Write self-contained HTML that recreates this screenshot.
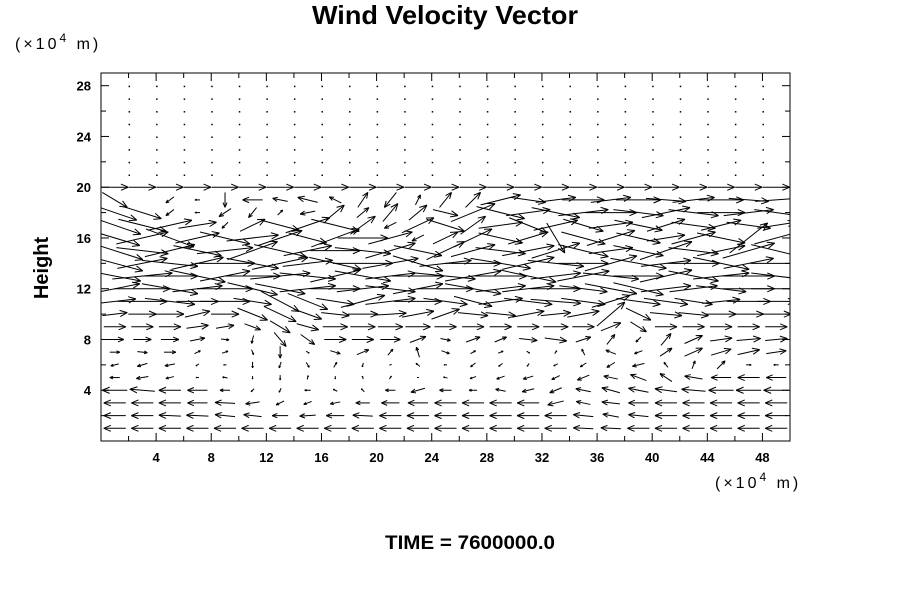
<!DOCTYPE html>
<html><head><meta charset="utf-8"><style>
body{margin:0;background:#fff;}
svg text{font-family:"Liberation Sans",sans-serif;}
</style></head><body>
<svg id="chart" width="900" height="600" viewBox="0 0 900 600" xmlns="http://www.w3.org/2000/svg">
<defs><clipPath id="plotclip"><rect x="101" y="73" width="689" height="368"/></clipPath></defs>
<rect width="900" height="600" fill="#fff"/>
<text x="445" y="24" text-anchor="middle" font-size="26" font-weight="bold" textLength="266" lengthAdjust="spacingAndGlyphs">Wind Velocity Vector</text>
<text x="15" y="49" font-size="16" letter-spacing="3">(×10<tspan dy="-7" font-size="12">4</tspan><tspan dy="7"> m)</tspan></text>
<text x="715" y="488" font-size="16" letter-spacing="3">(×10<tspan dy="-7" font-size="12">4</tspan><tspan dy="7"> m)</tspan></text>
<text transform="translate(48,268) rotate(-90)" text-anchor="middle" font-size="20" font-weight="bold">Height</text>
<text x="470" y="549" text-anchor="middle" font-size="19" font-weight="bold" textLength="170" lengthAdjust="spacingAndGlyphs">TIME = 7600000.0</text>
<g id="axes"></g>
<g id="vectors" clip-path="url(#plotclip)"></g>
<rect x="101" y="73" width="689" height="368" fill="none" stroke="#000" stroke-width="1"/>
</svg>
<script>
const xTickLabels=[4,8,12,16,20,24,28,32,36,40,44,48];
const yTickLabels=[4,8,12,16,20,24,28];
const columns=[1,3,5,7,9,11,13,15,17,19,21,23,25,27,29,31,33,35,37,39,41,43,45,47,49];
const dotColumns=[2,4,6,8,10,12,14,16,18,20,22,24,26,28,30,32,34,36,38,40,42,44,46,48];
const heights=[1,2,3,4,5,6,7,8,9,10,11,12,13,14,15,16,17,18,19,20];
const calmHeights=[21,22,23,24,25,26,27,28];
const uByHeight=[
[-22,-22,-22,-22,-22,-22,-22,-22,-22,-22,-22,-22,-22,-22,-22,-22,-22,-20,-20,-22,-22,-22,-22,-22,-22],
[-22,-22,-22,-22,-20,-18,-16,-16,-18,-20,-22,-22,-22,-22,-22,-22,-22,-20,-16,-20,-22,-22,-22,-22,-22],
[-22,-22,-22,-20,-20,-14,-8,-8,-10,-14,-18,-20,-22,-22,-22,-22,-16,-14,-18,-20,-22,-22,-22,-22,-22],
[-25,-25,-22,-20,-10,-3,-2,-6,-4,-3,-10,-14,-12,-8,-10,-12,-12,-15,-18,-20,-22,-24,-25,-25,-25],
[-10,-12,-8,-3,-5,0,0,1,0,-1,2,-2,-4,-6,-8,-10,-8,-12,-14,-16,-12,-18,-20,-22,-20],
[-8,-10,-10,-3,-3,0,-2,3,3,-1,2,-4,-3,-5,-4,-2,-4,-6,-8,-12,-4,3,8,5,-5],
[10,10,12,6,6,2,0,3,10,12,5,-3,8,5,5,3,2,-3,-10,-8,12,18,20,22,20],
[18,18,18,15,8,-2,12,14,22,22,20,16,10,14,12,18,22,15,8,-5,10,18,22,24,22],
[22,22,22,22,18,16,20,22,25,25,25,25,22,22,22,22,25,22,20,16,22,22,22,22,22],
[25,28,28,25,28,30,32,28,28,30,32,32,28,30,30,32,30,32,28,25,32,30,30,30,30],
[42,50,50,42,50,38,38,40,38,44,50,48,44,38,44,48,50,44,38,44,44,38,38,44,38],
[50,56,56,50,56,50,50,56,50,52,50,50,56,56,50,52,50,48,52,50,50,48,50,52,50],
[52,60,56,56,50,56,60,56,50,56,50,52,60,56,52,56,50,52,56,50,52,50,56,52,50],
[56,50,56,52,60,52,56,50,52,60,56,50,52,56,60,52,56,50,52,56,50,52,56,50,52],
[56,52,50,48,56,50,52,48,50,56,50,48,38,44,50,52,48,50,44,50,52,50,48,52,50],
[50,52,48,44,50,52,44,38,48,50,44,-12,25,38,44,40,18,44,48,44,38,44,48,38,44],
[52,48,44,38,-6,25,38,44,48,25,-12,32,38,25,44,38,44,40,44,48,38,44,40,44,38],
[44,38,-8,-5,-12,-8,5,-15,18,12,15,18,25,44,48,44,48,50,52,50,48,50,48,50,44],
[25,0,-8,-5,0,-20,-15,-20,-12,10,-12,5,12,15,40,35,40,42,40,45,40,42,45,40,42],
[27,27,27,27,27,27,27,27,27,27,27,27,27,27,27,27,27,27,27,27,27,27,27,27,27]];
const vByHeight=[
[0,0,0,0,0,0,0,0,0,0,0,0,0,0,0,0,0,1,1,0,0,0,0,0,0],
[0,0,1,1,2,2,0,-1,0,1,0,0,0,0,0,0,0,2,3,2,0,0,0,0,0],
[0,0,0,0,1,-2,-4,-3,-2,0,0,0,0,0,0,0,-4,3,2,0,0,0,0,0,0],
[0,2,0,0,0,-3,-4,0,2,3,0,-4,0,0,2,-3,-5,3,5,4,3,2,0,0,0],
[0,-2,-2,0,1,-3,-5,4,-3,3,3,0,1,-2,-3,-3,-4,-5,3,6,8,3,0,0,0],
[-2,-3,-2,-2,0,-6,-6,-5,5,-4,1,3,0,-4,-3,-3,-2,-4,-5,-3,5,8,8,0,0],
[0,-1,0,3,2,-5,-12,-2,-3,5,6,10,-3,3,2,-2,3,6,4,-3,8,8,6,5,3],
[0,0,0,3,-1,-8,-14,-10,0,0,0,6,-2,5,5,-2,-3,5,10,-5,12,8,3,2,2],
[0,0,0,3,3,-6,-12,-6,0,0,0,0,0,0,0,0,0,0,8,-10,0,0,0,0,0],
[3,0,0,6,0,-12,-15,-10,-3,0,2,6,10,-3,-3,6,3,6,24,-12,-3,-3,0,0,0],
[5,0,-6,0,0,-6,-20,-16,-6,12,6,0,-6,-10,6,-6,-4,-6,12,-6,-6,-6,4,0,0],
[10,0,-10,6,0,-12,-10,6,0,6,-6,10,0,-10,6,6,0,-6,-10,-12,6,6,-6,0,0],
[-10,6,0,-12,10,0,6,-6,12,-10,6,0,-6,10,0,-12,6,10,-6,0,12,-10,6,0,-6],
[-15,10,-6,12,0,-10,12,6,-12,0,10,-15,6,0,-10,12,-6,0,15,-10,6,0,-12,10,0],
[-18,-6,12,-10,6,18,-12,10,0,-6,15,-10,18,12,-6,10,15,-12,6,-10,18,-6,10,15,-12],
[-15,12,-18,10,-12,6,15,-10,18,0,12,-6,12,18,-10,12,-30,-12,15,-10,6,12,-10,30,12],
[-18,-12,10,6,-6,12,-10,15,-12,18,-6,15,-12,18,6,-15,10,-12,6,-10,12,-6,10,-6,6],
[-15,-12,-6,0,-8,-10,5,-3,15,10,18,15,-6,18,-12,6,-10,6,0,-6,10,-6,0,6,-6],
[-15,0,-6,0,-15,0,3,5,6,15,-15,10,15,15,10,-5,5,0,5,0,-3,5,0,-3,3],
[0,0,0,0,0,0,0,0,0,0,0,0,0,0,0,0,0,0,0,0,0,0,0,0,0]];

const NS='http://www.w3.org/2000/svg';
const X0=101,X1=790,Y0=441,Y1=73,XMAX=50,YMAX=29;
function xs(v){return X0+(X1-X0)*v/XMAX;}
function ys(v){return Y0-(Y0-Y1)*v/YMAX;}
function mk(tag,attrs,parent){const e=document.createElementNS(NS,tag);for(const k in attrs)e.setAttribute(k,attrs[k]);parent.appendChild(e);return e;}
const axes=document.getElementById('axes');
const vec=document.getElementById('vectors');
for(let t=2;t<XMAX;t+=2){
  const b=mk('line',{x1:xs(t),x2:xs(t),y1:Y0,y2:Y0-(t%4===0?8:5),stroke:'#000'},axes);
  
  
  const tp=mk('line',{x1:xs(t),x2:xs(t),y1:Y1,y2:Y1+(t%4===0?8:5),stroke:'#000'},axes);
  
  
}
for(let t=2;t<YMAX;t+=2){
  const l=mk('line',{x1:X0,x2:X0+(t%4===0?8:5),y1:ys(t),y2:ys(t),stroke:'#000'},axes);
  
  
  const r=mk('line',{x1:X1,x2:X1-(t%4===0?8:5),y1:ys(t),y2:ys(t),stroke:'#000'},axes);
  
  
}
xTickLabels.forEach(v=>{
  const t=mk('text',{x:xs(v),y:Y0+21,'text-anchor':'middle','font-size':13,'font-weight':'bold'},axes);
  t.textContent=v;
  
  
});
yTickLabels.forEach(v=>{
  const t=mk('text',{x:X0-10,y:ys(v)+5,'text-anchor':'end','font-size':13,'font-weight':'bold'},axes);
  t.textContent=v;
  
  
});
heights.forEach((h,i)=>{
  columns.forEach((c,j)=>{
    const u=uByHeight[i][j],v=vByHeight[i][j];
    const cx=xs(c),cy=ys(h);
    const x1=cx-u/2,y1=cy+v/2,x2=cx+u/2,y2=cy-v/2;
    const g=mk('g',{stroke:'#000','stroke-width':1,fill:'none'},vec);
    
    
    mk('line',{x1:x1,y1:y1,x2:x2,y2:y2},g);
    const len=Math.hypot(u,v);
    if(len>2){
      const a=Math.atan2(y2-y1,x2-x1),hl=Math.min(8,len*0.35);
      [0.4,-0.4].forEach(d=>{mk('line',{x1:x2,y1:y2,x2:x2-hl*Math.cos(a+d),y2:y2-hl*Math.sin(a+d)},g);});
    }
  });
});
calmHeights.forEach(h=>{
  dotColumns.forEach(c=>{
    const d=mk('rect',{x:xs(c),y:ys(h),width:1.5,height:1.5,fill:'#000'},vec);
    
    
  });
});
</script>
</body></html>
